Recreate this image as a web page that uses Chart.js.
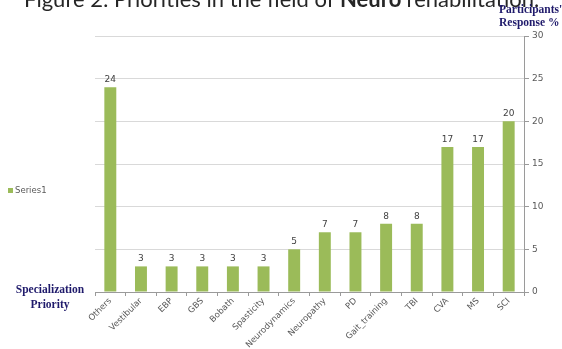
<!DOCTYPE html>
<html>
<head>
<meta charset="utf-8">
<script src="https://cdn.jsdelivr.net/npm/chart.js@4.4.0/dist/chart.umd.min.js"></script>
<style>
  html, body { margin: 0; padding: 0; background: #fff; overflow: hidden; }
  #box { width: 562px; height: 349px; position: relative; }
</style>
</head>
<body>
<div id="box"><canvas id="priorityChart" width="562" height="349"></canvas></div>
<script>
const categories = ['Others', 'Vestibular', 'EBP', 'GBS', 'Bobath', 'Spasticity', 'Neurodynamics',
    'Neuropathy', 'PD', 'Gait_training', 'TBI', 'CVA', 'MS', 'SCI'];
const responses = [24, 3, 3, 3, 3, 3, 5, 7, 7, 8, 8, 17, 17, 20];
const yTicks = [0, 5, 10, 15, 20, 25, 30];

const barGreen = '#9BBB59';
const navy = '#1f1a6b';

// value printed above each bar
const barValues = {
    id: 'barValues',
    afterDatasetsDraw(chart) {
        const ctx = chart.ctx;
        ctx.save();
        ctx.font = '9px "DejaVu Sans", sans-serif';
        ctx.fillStyle = '#404040';
        ctx.textAlign = 'center';
        ctx.textBaseline = 'bottom';
        chart.getDatasetMeta(0).data.forEach((bar, i) => {
            ctx.fillText(String(chart.data.datasets[0].data[i]), bar.x, bar.y - 3);
        });
        ctx.restore();
    }
};

// heading, axis names and the little legend on the left
const sideText = {
    id: 'sideText',
    afterDraw(chart) {
        const ctx = chart.ctx;
        ctx.save();
        ctx.textBaseline = 'alphabetic';

        const head = 'Figure 2: Priorities in the field of ';
        ctx.fillStyle = '#262626';
        ctx.font = '22px Lato, sans-serif';
        ctx.textAlign = 'left';
        ctx.fillText(head, 24, 7);
        let x = 24 + ctx.measureText(head).width;
        ctx.font = 'bold 22px Lato, sans-serif';
        ctx.fillText('Neuro', x, 7);
        x += ctx.measureText('Neuro ').width;
        ctx.font = '22px Lato, sans-serif';
        ctx.fillText('rehabilitation.', x, 7);

        ctx.fillStyle = navy;
        ctx.font = 'bold 11.5px "Liberation Serif", serif';
        ctx.fillText("Participants'", 499, 13);
        ctx.fillText('Response %', 499, 26);
        ctx.textAlign = 'center';
        ctx.fillText('Specialization', 50, 293);
        ctx.fillText('Priority', 50, 308);

        const ds = chart.data.datasets[0];
        ctx.fillStyle = ds.backgroundColor;
        ctx.fillRect(8, 188, 5, 5);
        ctx.fillStyle = '#595959';
        ctx.font = '8.5px "DejaVu Sans", sans-serif';
        ctx.textAlign = 'left';
        ctx.textBaseline = 'middle';
        ctx.fillText(ds.label, 15, 191);
        ctx.restore();
    }
};

const ctx = document.getElementById('priorityChart').getContext('2d');
new Chart(ctx, {
    type: 'bar',
    data: {
        labels: categories,
        datasets: [{
            label: 'Series1',
            data: responses,
            backgroundColor: barGreen,
            borderWidth: 0,
            barPercentage: 0.39,
            categoryPercentage: 1
        }]
    },
    options: {
        responsive: false,
        animation: false,
        layout: {
            padding: { left: 95, top: 36, right: 0, bottom: 0 }
        },
        plugins: {
            legend: { display: false },
            tooltip: { enabled: false }
        },
        scales: {
            x: {
                offset: true,
                grid: {
                    display: true,
                    drawOnChartArea: false,
                    drawTicks: true,
                    tickLength: 4,
                    offset: true,
                    color: '#9a9a9a'
                },
                border: { color: '#9a9a9a' },
                ticks: {
                    autoSkip: false,
                    minRotation: 45,
                    maxRotation: 45,
                    padding: 0,
                    color: '#595959',
                    font: { size: 8.5, family: '"DejaVu Sans", sans-serif' }
                },
                afterFit: scale => { scale.height = 57; }
            },
            y: {
                position: 'right',
                min: yTicks[0],
                max: yTicks[yTicks.length - 1],
                afterBuildTicks: scale => {
                    scale.ticks = yTicks.map(v => ({ value: v }));
                },
                grid: {
                    color: '#d9d9d9',
                    tickColor: '#9a9a9a',
                    tickLength: 5
                },
                border: { color: '#9a9a9a' },
                ticks: {
                    padding: 3,
                    color: '#595959',
                    font: { size: 9, family: '"DejaVu Sans", sans-serif' }
                },
                afterFit: scale => { scale.width = 38; }
            }
        }
    },
    plugins: [barValues, sideText]
});
</script>
</body>
</html>
